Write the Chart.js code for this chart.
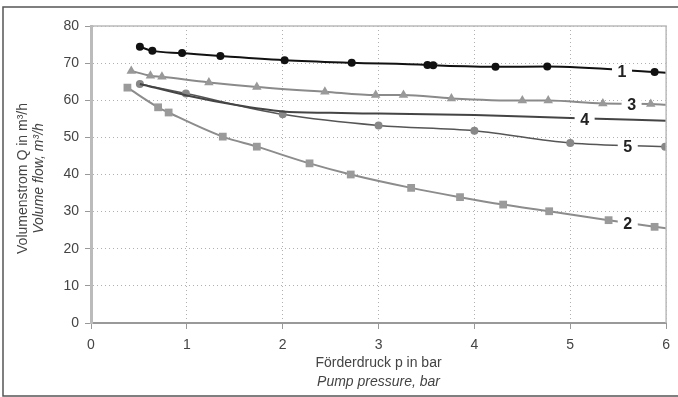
<!DOCTYPE html>
<html>
<head>
<meta charset="utf-8">
<script src="https://cdn.jsdelivr.net/npm/chart.js@4"></script>
<style>
  html, body { margin: 0; padding: 0; background: #fff; }
  #wrap { width: 678px; height: 397px; }
</style>
</head>
<body>
<div id="wrap"><canvas id="pump" width="678" height="397"></canvas></div>
<script>
// values (pressure in bar, flow in m3/h)
const curve1X = [0.51, 0.64, 0.95, 1.35, 2.02, 2.72, 3.51, 3.57, 4.22, 4.76, 5.88, 6.0];
const curve1Y = [74.4, 73.3, 72.7, 71.9, 70.8, 70.1, 69.5, 69.4, 69.0, 69.1, 67.6, 67.4];

const curve3X = [0.42, 0.62, 0.74, 1.23, 1.73, 2.44, 2.97, 3.26, 3.76, 4.5, 4.77, 5.34, 5.84, 6.0];
const curve3Y = [67.9, 66.6, 66.3, 64.8, 63.6, 62.3, 61.4, 61.4, 60.5, 59.9, 59.9, 59.1, 59.0, 58.8];

const curve4X = [0.51, 1.0, 1.5, 2.0, 2.5, 3.0, 4.0, 5.0, 6.0];
const curve4Y = [64.4, 61.3, 58.8, 57.0, 56.6, 56.4, 56.0, 55.2, 54.5];

const curve5X = [0.51, 0.99, 2.0, 3.0, 4.0, 5.0, 5.99];
const curve5Y = [64.4, 61.8, 56.2, 53.2, 51.8, 48.5, 47.5];

const curve2X = [0.38, 0.70, 0.81, 1.375, 1.73, 2.28, 2.71, 3.34, 3.85, 4.30, 4.78, 5.40, 5.88, 6.0];
const curve2Y = [63.4, 58.1, 56.7, 50.2, 47.5, 43.0, 40.0, 36.4, 33.9, 31.9, 30.1, 27.7, 25.9, 25.5];

const curveNames = ['1', '3', '4', '5', '2'];
const nameAtX = [5.54, 5.64, 5.15, 5.6, 5.6];

const xTicks = [0, 1, 2, 3, 4, 5, 6];
const yTicks = [0, 10, 20, 30, 40, 50, 60, 70, 80];

const yTitle = ['Volumenstrom Q in m³/h', 'Volume flow, m³/h'];
const xTitle = ['Förderdruck p in bar', 'Pump pressure, bar'];

function pts(xs, ys) {
  return xs.map((x, i) => ({ x: x, y: ys[i] }));
}
// hide the marker on the point that only carries the line to the right edge
function markAllButEnd(r, n) {
  return (c) => (c.dataIndex === n - 1 ? 0 : r);
}

const FONT = "'Liberation Sans', Arial, sans-serif";

const framePlugin = {
  id: 'frame',
  beforeDraw(chart) {
    const ctx = chart.ctx;
    ctx.save();
    ctx.fillStyle = '#fff';
    ctx.fillRect(0, 0, chart.width, chart.height);
    ctx.strokeStyle = '#555';
    ctx.lineWidth = 1.5;
    ctx.strokeRect(3, 7, chart.width + 10, chart.height - 8);
    ctx.restore();
  },
  afterDraw(chart) {
    const ctx = chart.ctx;
    const a = chart.chartArea;
    ctx.save();
    // light box on top and right of the plot
    ctx.strokeStyle = '#bbb';
    ctx.lineWidth = 1.5;
    ctx.beginPath();
    ctx.moveTo(a.left, a.top);
    ctx.lineTo(a.right, a.top);
    ctx.lineTo(a.right, a.bottom);
    ctx.stroke();

    // axis titles, second line in italics
    ctx.fillStyle = '#444';
    ctx.textAlign = 'center';
    ctx.textBaseline = 'middle';
    const cx = (a.left + a.right) / 2;
    ctx.font = '14px ' + FONT;
    ctx.fillText(xTitle[0], cx, 363);
    ctx.font = 'italic 14px ' + FONT;
    ctx.fillText(xTitle[1], cx, 382);

    ctx.translate(0, (a.top + a.bottom) / 2 + 4);
    ctx.rotate(-Math.PI / 2);
    ctx.font = '14px ' + FONT;
    ctx.fillText(yTitle[0], 0, 23);
    ctx.font = 'italic 14px ' + FONT;
    ctx.fillText(yTitle[1], 0, 39);
    ctx.restore();
  }
};

// curve numbers sitting in a gap of their line
const namePlugin = {
  id: 'names',
  afterDatasetsDraw(chart) {
    const ctx = chart.ctx;
    const xs = chart.scales.x, ys = chart.scales.y;
    ctx.save();
    ctx.font = 'bold 16px ' + FONT;
    ctx.textAlign = 'center';
    ctx.textBaseline = 'middle';
    chart.data.datasets.forEach((ds, i) => {
      const lx = nameAtX[i];
      const d = ds.data;
      let ly = d[d.length - 1].y;
      for (let k = 0; k < d.length - 1; k++) {
        if (lx >= d[k].x && lx <= d[k + 1].x) {
          const t = (lx - d[k].x) / (d[k + 1].x - d[k].x);
          ly = d[k].y + t * (d[k + 1].y - d[k].y);
          break;
        }
      }
      const px = xs.getPixelForValue(lx);
      const py = ys.getPixelForValue(ly) + 2;
      ctx.fillStyle = '#fff';
      ctx.fillRect(px - 10, py - 8, 20, 16);
      ctx.fillStyle = '#222';
      ctx.fillText(curveNames[i], px, py);
    });
    ctx.restore();
  }
};

new Chart(document.getElementById('pump'), {
  type: 'line',
  data: {
    datasets: [
      {
        label: '1',
        data: pts(curve1X, curve1Y),
        borderColor: '#111',
        backgroundColor: '#111',
        borderWidth: 2,
        pointStyle: 'circle',
        pointRadius: markAllButEnd(4, curve1X.length),
        pointBorderWidth: 0,
        cubicInterpolationMode: 'monotone'
      },
      {
        label: '3',
        data: pts(curve3X, curve3Y),
        borderColor: '#8a8a8a',
        backgroundColor: '#999',
        borderWidth: 2,
        pointStyle: 'triangle',
        pointRadius: markAllButEnd(5.5, curve3X.length),
        pointBorderWidth: 0,
        cubicInterpolationMode: 'monotone'
      },
      {
        label: '4',
        data: pts(curve4X, curve4Y),
        borderColor: '#444',
        backgroundColor: '#444',
        borderWidth: 2,
        pointRadius: 0,
        cubicInterpolationMode: 'monotone'
      },
      {
        label: '5',
        data: pts(curve5X, curve5Y),
        borderColor: '#555',
        backgroundColor: '#888',
        borderWidth: 1.5,
        pointStyle: 'circle',
        pointRadius: 4,
        pointBorderWidth: 0,
        cubicInterpolationMode: 'monotone'
      },
      {
        label: '2',
        data: pts(curve2X, curve2Y),
        borderColor: '#8c8c8c',
        backgroundColor: '#9a9a9a',
        borderWidth: 2,
        pointStyle: 'rect',
        pointRadius: markAllButEnd(5.5, curve2X.length),
        pointBorderWidth: 0,
        cubicInterpolationMode: 'monotone'
      }
    ]
  },
  options: {
    responsive: false,
    animation: false,
    layout: { padding: { top: 26, right: 7, left: 0, bottom: 0 } },
    plugins: {
      legend: { display: false },
      title: { display: false },
      tooltip: { enabled: false }
    },
    scales: {
      x: {
        type: 'linear',
        min: 0,
        max: 6,
        afterBuildTicks: (s) => { s.ticks = xTicks.map(v => ({ value: v })); },
        afterFit: (s) => { s.height = 74; },
        ticks: { color: '#444', font: { size: 14, family: FONT }, padding: 8 },
        grid: { color: '#b0b0b0', lineWidth: 1, tickLength: 6, tickColor: '#999' },
        border: { color: '#999', width: 2, dash: [1, 3] }
      },
      y: {
        min: 0,
        max: 80,
        afterBuildTicks: (s) => { s.ticks = yTicks.map(v => ({ value: v })); },
        afterFit: (s) => { s.width = 91; },
        ticks: { color: '#444', font: { size: 14, family: FONT }, padding: 6 },
        grid: { color: '#b0b0b0', lineWidth: 1, tickLength: 6, tickColor: '#999' },
        border: { color: '#bbb', width: 3, dash: [1, 3] }
      }
    }
  },
  plugins: [framePlugin, namePlugin]
});
</script>
</body>
</html>
